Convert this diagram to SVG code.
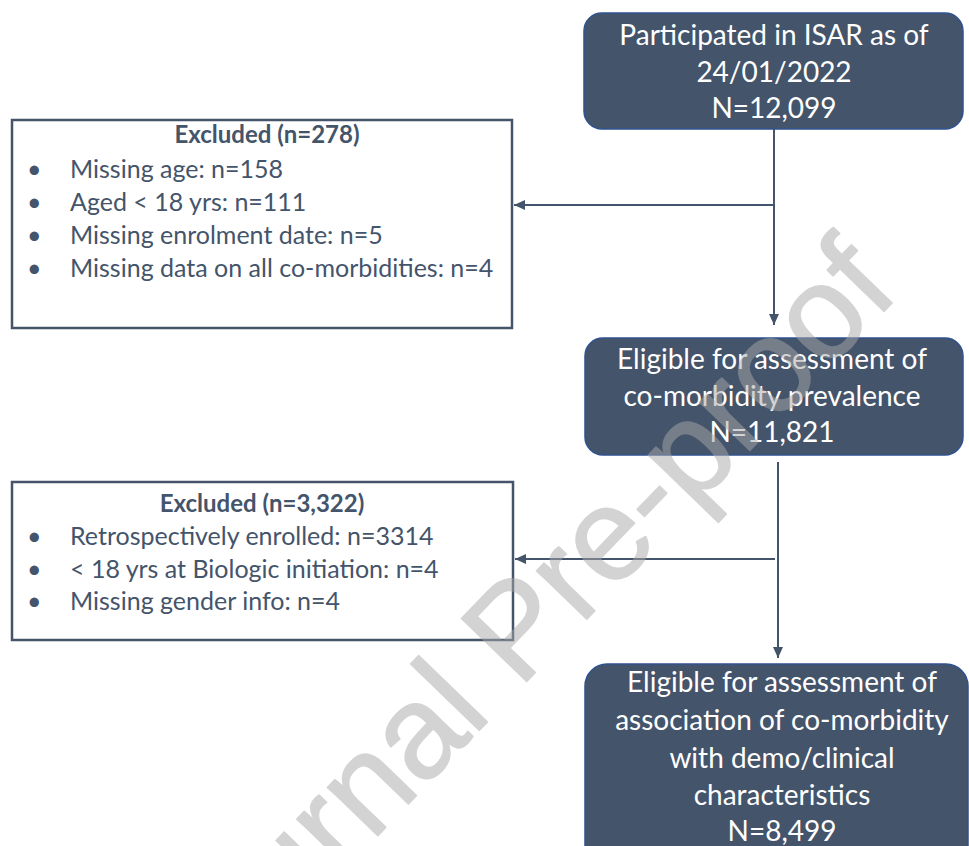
<svg xmlns="http://www.w3.org/2000/svg" width="969" height="846" viewBox="0 0 969 846">
<style>
.box{fill:#44546A;stroke:#2F528F;stroke-width:1.5}
.bt{font-family:Lato,"Open Sans",sans-serif;font-size:28px;fill:#ffffff;text-anchor:middle}
.ex{fill:#ffffff;stroke:#44546A;stroke-width:2.5}
.et{font-family:Lato,"Open Sans",sans-serif;font-size:25px;fill:#44546A}
.eh{font-family:Lato,"Open Sans",sans-serif;font-size:24px;font-weight:bold;fill:#44546A;text-anchor:middle}
.con{fill:none;stroke:#44546A;stroke-width:2}
.wm{font-family:"Liberation Sans",Arial,sans-serif;font-size:132px;fill:#a9a9a9;stroke:#a9a9a9;stroke-width:1.5;stroke-linejoin:round}
</style>
<defs>
<marker id="ah" markerUnits="userSpaceOnUse" markerWidth="12" markerHeight="12" refX="11" refY="6" orient="auto">
<path d="M0,1 L11,6 L0,11 z" fill="#44546A"/>
</marker>
</defs>
<rect width="969" height="846" fill="#ffffff"/>
<g id="connectors">
<path class="con" d="M774,129 V325" marker-end="url(#ah)"/>
<path class="con" d="M774,205 H514" marker-end="url(#ah)"/>
<path class="con" d="M778,462 V658" marker-end="url(#ah)"/>
<path class="con" d="M775,559 H515" marker-end="url(#ah)"/>
</g>
<g id="node-participated">
<rect class="box" x="584" y="13" width="379" height="116" rx="18"/>
<text class="bt" x="774" y="45">Participated in ISAR as of</text>
<text class="bt" x="774" y="82">24/01/2022</text>
<text class="bt" x="774" y="118">N=12,099</text>
</g>
<g id="node-excluded1">
<rect class="ex" x="12" y="120" width="500" height="208"/>
<text class="eh" x="267" y="143">Excluded (n=278)</text>
<text class="et" x="27" y="178">•</text><text class="et" x="70" y="178">Missing age: n=158</text>
<text class="et" x="27" y="211">•</text><text class="et" x="70" y="211">Aged &lt; 18 yrs: n=111</text>
<text class="et" x="27" y="244">•</text><text class="et" x="70" y="244">Missing enrolment date: n=5</text>
<text class="et" x="27" y="277">•</text><text class="et" x="70" y="277">Missing data on all co-morbidities: n=4</text>
</g>
<g id="node-eligible1">
<rect class="box" x="585" y="338" width="378" height="117" rx="18"/>
<text class="bt" x="772" y="369">Eligible for assessment of</text>
<text class="bt" x="772" y="406">co-morbidity prevalence</text>
<text class="bt" x="772" y="442">N=11,821</text>
</g>
<g id="node-excluded2">
<rect class="ex" x="12" y="482" width="501" height="158"/>
<text class="eh" x="262" y="512">Excluded (n=3,322)</text>
<text class="et" x="27" y="545">•</text><text class="et" x="70" y="545">Retrospectively enrolled: n=3314</text>
<text class="et" x="27" y="578">•</text><text class="et" x="70" y="578">&lt; 18 yrs at Biologic initiation: n=4</text>
<text class="et" x="27" y="610">•</text><text class="et" x="70" y="610">Missing gender info: n=4</text>
</g>
<g id="node-eligible2">
<rect class="box" x="585" y="664" width="383" height="210" rx="22"/>
<text class="bt" x="782" y="692">Eligible for assessment of</text>
<text class="bt" x="782" y="730">association of co-morbidity</text>
<text class="bt" x="782" y="768">with demo/clinical</text>
<text class="bt" x="782" y="805">characteristics</text>
<text class="bt" x="782" y="841">N=8,499</text>
</g>
<g id="watermark" opacity="0.5">
<text class="wm" x="193" y="1027" transform="rotate(-46 193 1027)">Journal Pre-proof</text>
</g>
</svg>
